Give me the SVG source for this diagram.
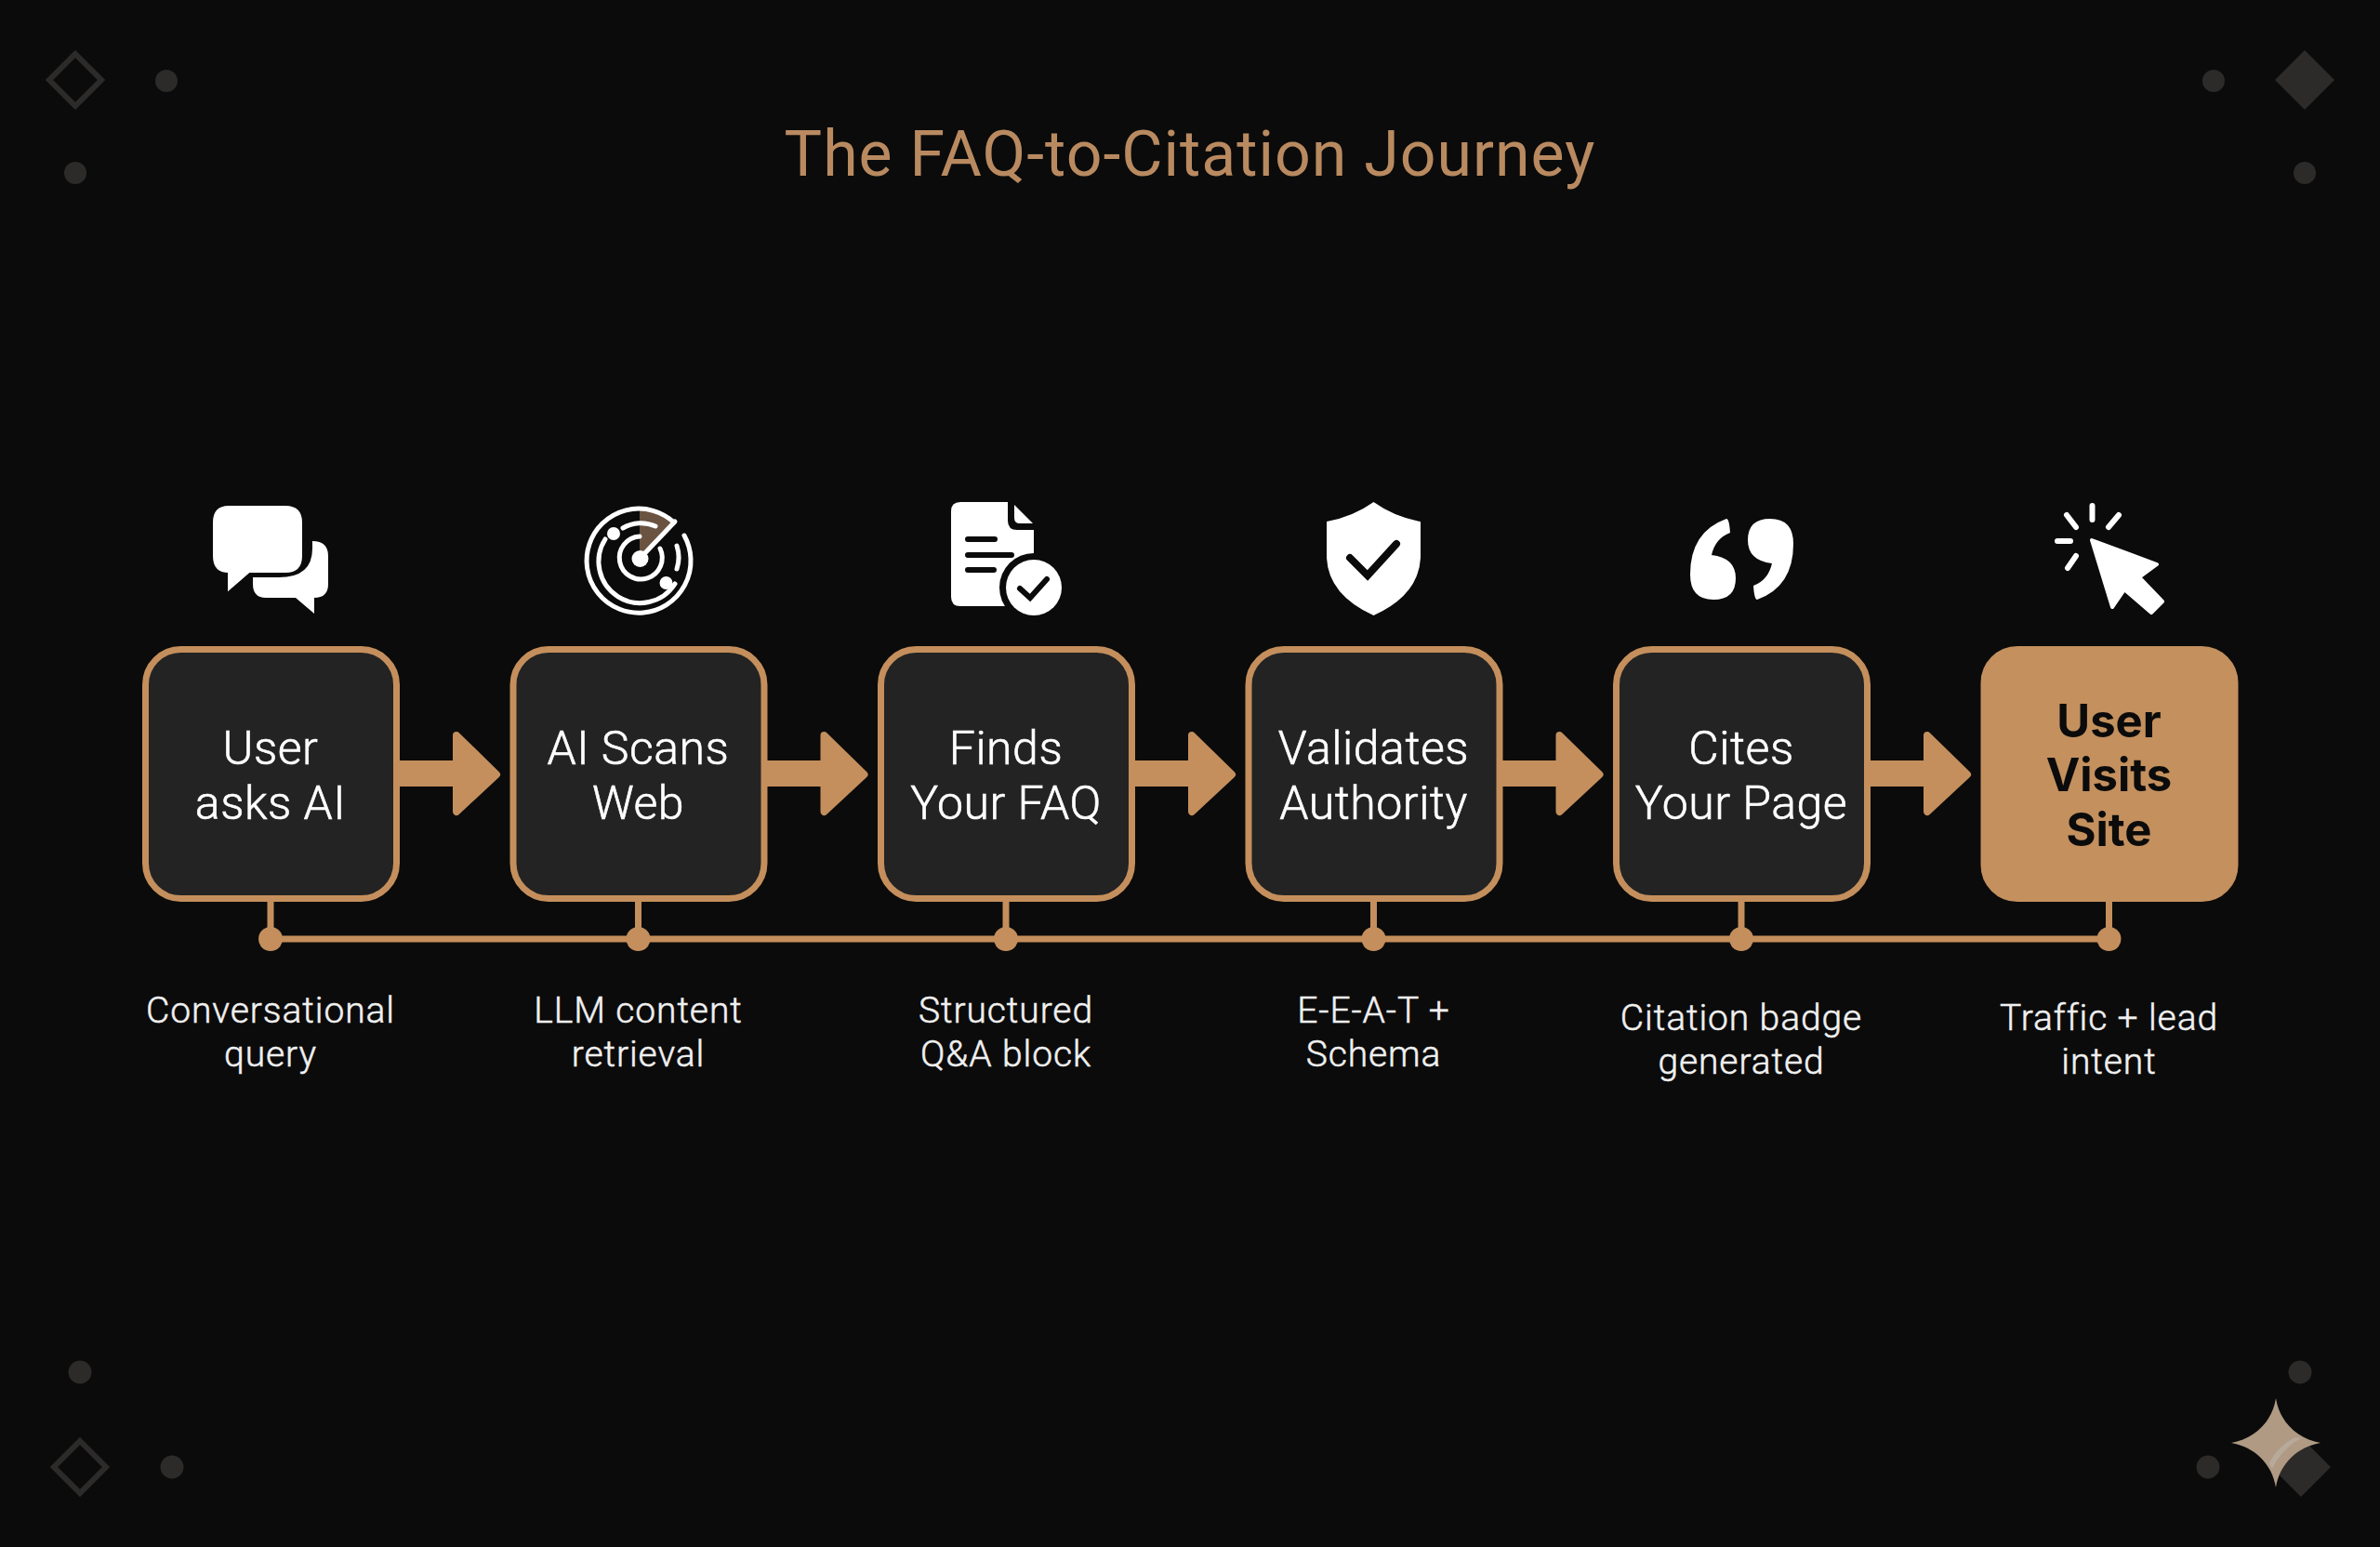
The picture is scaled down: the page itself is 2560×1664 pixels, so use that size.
<svg xmlns="http://www.w3.org/2000/svg" width="2560" height="1664" viewBox="0 0 2560 1664">
<defs>
<style>
text{font-family:"Roboto","Liberation Sans",sans-serif;text-anchor:middle}
.box{fill:#232323;stroke:#c48f5c;stroke-width:7}
.hot{fill:#c3905e;stroke:#c3905e;stroke-width:7}
.t{font-size:50px;fill:#fff;font-weight:300;letter-spacing:.5px;stroke:#fff;stroke-width:.6px}
.tb{font-family:"Inter","Liberation Sans",sans-serif;font-size:49px;fill:#0b0b0b;font-weight:700}
.l{font-size:39px;fill:#f0f0f0;font-weight:300;letter-spacing:.9px;stroke:#f0f0f0;stroke-width:.5px}
.title{font-size:68px;fill:#b98a60;letter-spacing:1px}
.deco{fill:#2c2b2a}
.decoL{fill:none;stroke:#2c2b2a;stroke-width:6}
.w{fill:#fff}
.ws{fill:none;stroke:#fff;stroke-linecap:round}
.ds{fill:none;stroke:#0b0b0b;stroke-linecap:round;stroke-linejoin:miter}
.wire{fill:none;stroke:#c48f5c;stroke-width:7}
.dot{fill:#c48f5c}
.arr{fill:#c48f5c;stroke:#c48f5c;stroke-width:8;stroke-linejoin:round}
</style>
<path id="arrow" d="M0 -10H62V-41L105 1L62 41V10H0Z"/>
</defs>
<rect width="2560" height="1664" fill="#0b0b0b"/>
<g id="decor">
<path class="decoL" d="M81 58L109 86L81 114L53 86Z"/>
<circle class="deco" cx="179" cy="87" r="12"/><circle class="deco" cx="81" cy="186" r="12"/>
<circle class="deco" cx="2381" cy="87" r="12"/><path class="deco" d="M2479 54L2511 86L2479 118L2447 86Z"/><circle class="deco" cx="2479" cy="186" r="12"/>
<circle class="deco" cx="86" cy="1476" r="12.5"/><path class="decoL" d="M86 1550L114 1578L86 1606L58 1578Z"/><circle class="deco" cx="185" cy="1578" r="12.5"/>
<circle class="deco" cx="2474" cy="1476" r="12.5"/><circle class="deco" cx="2375" cy="1578" r="12.5"/><path class="deco" d="M2475 1546L2507 1578L2475 1610L2443 1578Z"/>
<path fill="#b09a84" d="M2448 1504C2452 1530 2472 1548 2496 1552C2472 1556 2452 1574 2448 1600C2444 1574 2424 1556 2400 1552C2424 1548 2444 1530 2448 1504Z"/>
<path fill="#b8aa9a" d="M2476 1547C2462 1553 2450 1567 2444 1580L2441 1574C2446 1562 2458 1551 2469 1546Z"/>
</g>
<text id="title" class="title" x="1280" y="189">The FAQ-to-Citation Journey</text>
<g id="connectors">
<path class="wire" d="M291 1010H2268M291 970V1010M686.500 970V1010M1082 970V1010M1477.500 970V1010M1873 970V1010M2268.500 970V1010"/>
<g class="dot"><circle cx="291" cy="1010" r="13"/><circle cx="686.5" cy="1010" r="13"/><circle cx="1082" cy="1010" r="13"/><circle cx="1477.5" cy="1010" r="13"/><circle cx="1873" cy="1010" r="13"/><circle cx="2268.5" cy="1010" r="13"/></g>
<g class="arr"><use href="#arrow" x="429" y="832"/><use href="#arrow" x="824.5" y="832"/><use href="#arrow" x="1220" y="832"/><use href="#arrow" x="1615.5" y="832"/><use href="#arrow" x="2011" y="832"/></g>
</g>
<g id="node1"><rect class="box" x="156.5" y="698.5" width="270" height="268" rx="38"/><text class="t" x="291" y="822">User</text><text class="t" x="291" y="881">asks AI</text><text class="l" x="291" y="1100">Conversational</text><text class="l" x="291" y="1147">query</text>
<path class="w" stroke="#fff" stroke-width="2" d="M246 545H307Q324 545 324 562V598Q324 615 307 615H268L246 634V615Q230 615 230 598V562Q230 545 246 545Z"/>
<path class="w" d="M336 582Q353 582 353 598V628Q353 643 338 643V660L318 643H286Q272 643 272 628V621H300Q336 621 336 590Z"/></g>
<g id="node2"><rect class="box" x="552" y="698.5" width="270" height="268" rx="38"/><text class="t" x="686.5" y="822">AI Scans</text><text class="t" x="686.5" y="881">Web</text><text class="l" x="686.5" y="1100">LLM content</text><text class="l" x="686.5" y="1147">retrieval</text>
<g transform="translate(1 0)"><path fill="#6a5340" d="M687 601V548A53 53 0 0 1 722 563Z"/>
<path class="ws" stroke-width="5" d="M724 562A56 56 0 1 0 735 576"/>
<path class="ws" stroke-width="5" d="M650 580A40 40 0 1 0 725 628M727 587A40 40 0 0 1 727 612M669 568A38 38 0 0 1 704 566M687 577A23 23 0 1 0 709 590"/>
<path class="ws" stroke-width="5" d="M687 601L725 561"/>
<circle class="w" cx="687.5" cy="601" r="9"/><circle class="w" cx="659" cy="574" r="7"/><circle class="w" cx="715.500" cy="627" r="7"/></g></g>
<g id="node3"><rect class="box" x="947.5" y="698.5" width="270" height="268" rx="38"/><text class="t" x="1082" y="822">Finds</text><text class="t" x="1082" y="881">Your FAQ</text><text class="l" x="1082" y="1100">Structured</text><text class="l" x="1082" y="1147">Q&amp;A block</text>
<path class="w" d="M1033 540H1084V560Q1084 570 1094 570H1112V625H1090V652H1033Q1023 652 1023 642V550Q1023 540 1033 540Z"/>
<path class="w" d="M1091 543L1111 563H1097Q1091 563 1091 557Z"/>
<path class="ds" stroke-width="6" d="M1041 580H1070M1041 597H1088M1041 613H1069"/>
<circle cx="1112" cy="632" r="37" fill="#0b0b0b"/><circle class="w" cx="1112" cy="632" r="30"/>
<path class="ds" stroke-width="6" d="M1097 633L1108 643L1126 623"/></g>
<g id="node4"><rect class="box" x="1343" y="698.5" width="270" height="268" rx="38"/><text class="t" x="1477.5" y="822">Validates</text><text class="t" x="1477.5" y="881">Authority</text><text class="l" x="1477.5" y="1100">E-E-A-T +</text><text class="l" x="1477.5" y="1147">Schema</text>
<path class="w" d="M1477.5 540Q1500 556 1528 561V600Q1526 640 1477.5 662Q1429 640 1427 600V561Q1455 556 1477.5 540Z"/>
<path class="ds" stroke-width="8" d="M1452 600L1471 619L1502 585"/></g>
<g id="node5"><rect class="box" x="1738.5" y="698.5" width="270" height="268" rx="38"/><text class="t" x="1873" y="822">Cites</text><text class="t" x="1873" y="881">Your Page</text><text class="l" x="1873" y="1108">Citation badge</text><text class="l" x="1873" y="1155">generated</text>
<path class="w" id="q1" d="M1857 558Q1860 558 1861 573Q1845 579 1841 597Q1867 600 1867 622Q1867 645 1843 645Q1818 645 1818 618Q1818 572 1857 558Z"/>
<use href="#q1" transform="rotate(180 1873.5 601.5)"/></g>
<g id="node6"><rect class="hot" x="2134" y="698.5" width="270" height="268" rx="36"/><text class="tb" x="2268.5" y="793">User</text><text class="tb" x="2268.5" y="851">Visits</text><text class="tb" x="2268.5" y="910">Site</text><text class="l" x="2268.5" y="1108">Traffic + lead</text><text class="l" x="2268.5" y="1155">intent</text>
<path class="w" stroke="#fff" stroke-width="4" stroke-linejoin="round" d="M2250 581L2320 607L2301 621L2326 647L2314 659L2285 634L2272 653Z"/>
<path class="ws" stroke-width="6" d="M2250.500 544V559M2223 554L2233 567M2279 554L2268 567M2213 582H2227M2233 598L2224 611"/></g>
</svg>
